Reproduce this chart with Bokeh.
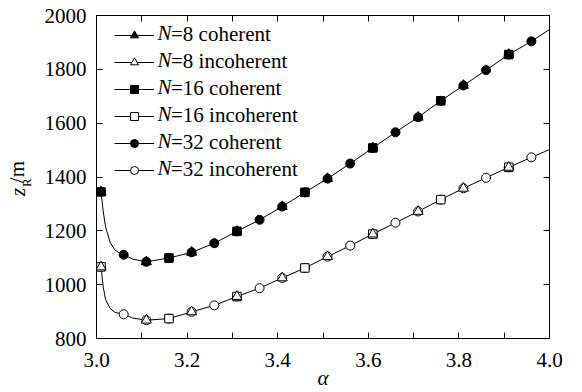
import numpy as np
from bokeh.plotting import figure
from bokeh.layouts import row
from bokeh.core.properties import value
from bokeh.models import Range1d, LinearAxis, FixedTicker, Legend, LegendItem, Label
from bokeh.embed import file_html
from bokeh.resources import INLINE

# ---- data ----
# N=32 (markers every 0.05)
alpha_32 = [3.01, 3.06, 3.11, 3.16, 3.21, 3.26, 3.31, 3.36, 3.41, 3.46,
            3.51, 3.56, 3.61, 3.66, 3.71, 3.76, 3.81, 3.86, 3.91, 3.96]
coh_32 = [1345, 1111, 1085, 1099, 1120, 1154, 1198, 1241, 1290, 1343,
          1394, 1450, 1508, 1566, 1622, 1683, 1740, 1797, 1855, 1904]
inc_32 = [1066, 890, 868, 874, 899, 923, 956, 987, 1025, 1062,
          1104, 1145, 1188, 1230, 1272, 1316, 1358, 1397, 1436, 1473]
# N=8 (markers every 0.1)
alpha_8 = [3.01, 3.11, 3.21, 3.31, 3.41, 3.51, 3.61, 3.71, 3.81, 3.91]
coh_8 = [1345, 1085, 1120, 1198, 1290, 1394, 1508, 1622, 1740, 1855]
inc_8 = [1066, 868, 899, 956, 1025, 1104, 1188, 1272, 1358, 1436]
# N=16 (markers every 0.15)
alpha_16 = [3.01, 3.16, 3.31, 3.46, 3.61, 3.76, 3.91]
coh_16 = [1345, 1099, 1198, 1343, 1508, 1683, 1855]
inc_16 = [1066, 874, 956, 1062, 1188, 1316, 1436]
# smooth curves
coh_curve_alpha = [3.01, 3.015, 3.02, 3.03, 3.04, 3.05, 3.06, 3.08, 3.11, 3.16, 3.21, 3.26,
                   3.31, 3.36, 3.41, 3.46, 3.51, 3.56, 3.61, 3.66, 3.71, 3.76, 3.81,
                   3.86, 3.91, 3.96, 4.0]
coh_curve = [1345, 1270, 1215, 1158, 1130, 1118, 1111, 1095, 1085, 1099, 1120, 1154,
             1198, 1241, 1290, 1343, 1394, 1450, 1508, 1566, 1622, 1683, 1740,
             1797, 1855, 1904, 1948]
inc_curve_alpha = coh_curve_alpha
inc_curve = [1066, 990, 945, 912, 898, 893, 890, 876, 868, 874, 899, 923,
             956, 987, 1025, 1062, 1104, 1145, 1188, 1230, 1272, 1316, 1358,
             1397, 1436, 1473, 1502]

x_ticks = [3.0, 3.2, 3.4, 3.6, 3.8, 4.0]
x_tick_labels = ["3.0", "3.2", "3.4", "3.6", "3.8", "4.0"]
x_minor = [3.1, 3.3, 3.5, 3.7, 3.9]
y_ticks = [800, 1000, 1200, 1400, 1600, 1800, 2000]
legend_n = ["8", "8", "16", "16", "32", "32"]
legend_kind = ["coherent", "incoherent", "coherent", "incoherent", "coherent", "incoherent"]
ylabel_parts = ["z", "R", "/m"]

FONT = "Liberation Serif"
FS = "21px"

# ---- narrow strip holding the y-axis title  z_R/m ----
LW = 40
LH = 392
lab = figure(width=LW, height=LH, output_backend="svg", toolbar_location=None,
             x_range=Range1d(0, LW), y_range=Range1d(LH, 0),   # screen-like: y grows downward
             x_axis_location=None, y_axis_location=None,
             min_border_left=0, min_border_right=0, min_border_top=0, min_border_bottom=0)
lab.grid.visible = False
lab.outline_line_color = None
lab.border_fill_color = "white"
lab.background_fill_color = "white"
# (style, size, centre x, centre y) of each part, measured from the strip's top-left
part_style = [("italic", "21px", 17, 214), ("normal", "13px", 26, 203), ("normal", "21px", 16.5, 190)]
for t, (st, fs, xx, yy) in zip(ylabel_parts, part_style):
    lab.text(x=[xx], y=[yy], text=[t], angle=np.pi / 2, text_font=value(FONT),
             text_font_size=fs, text_font_style=st, text_color="black",
             text_align="center", text_baseline="middle")

# ---- main plot ----
p = figure(width=582 - LW, height=392, output_backend="svg", toolbar_location=None,
           x_range=Range1d(3.0, 4.0), y_range=Range1d(800, 2000),
           x_axis_location=None, y_axis_location=None,
           min_border_left=96 - LW, min_border_right=33, min_border_top=15, min_border_bottom=52)
p.grid.visible = False
p.outline_line_color = "black"
p.outline_line_width = 1
p.background_fill_color = "white"
p.border_fill_color = "white"


def style_axis(ax):
    ax.axis_line_color = "black"
    ax.major_tick_in = 6
    ax.major_tick_out = 0
    ax.minor_tick_in = 6
    ax.minor_tick_out = 0
    ax.major_tick_line_color = "black"
    ax.minor_tick_line_color = "black"
    ax.major_label_text_font = FONT
    ax.major_label_text_color = "black"
    ax.major_label_text_font_size = FS


xt = FixedTicker(ticks=x_ticks, minor_ticks=x_minor)
yt = FixedTicker(ticks=y_ticks, minor_ticks=[])

bx = LinearAxis(ticker=xt, major_label_overrides={t: s for t, s in zip(x_ticks, x_tick_labels)})
style_axis(bx)
bx.major_label_standoff = 14
bx.axis_label = "α"
bx.axis_label_text_font = FONT
bx.axis_label_text_font_size = FS
bx.axis_label_text_font_style = "italic"
bx.axis_label_text_color = "black"
bx.axis_label_standoff = -4
p.add_layout(bx, "below")
tx = LinearAxis(ticker=xt, major_label_overrides={t: "" for t in x_ticks})
style_axis(tx)
tx.major_label_standoff = 0
p.add_layout(tx, "above")
ly = LinearAxis(ticker=yt)
style_axis(ly)
ly.major_label_standoff = 10
p.add_layout(ly, "left")
ry = LinearAxis(ticker=yt, major_label_overrides={t: "" for t in y_ticks})
style_axis(ry)
ry.major_label_standoff = 0
p.add_layout(ry, "right")

coh_line = p.line(coh_curve_alpha, coh_curve, line_color="black", line_width=1)
inc_line = p.line(inc_curve_alpha, inc_curve, line_color="black", line_width=1)

c32 = p.scatter(alpha_32, coh_32, marker="circle", size=9, fill_color="black", line_color="black")
i32 = p.scatter(alpha_32, inc_32, marker="circle", size=9, fill_color="white", line_color="black")
c16 = p.scatter(alpha_16, coh_16, marker="square", size=8.5, fill_color="black", line_color="black")
i16 = p.scatter(alpha_16, inc_16, marker="square", size=8.5, fill_color="white", line_color="black")
c8 = p.scatter(alpha_8, coh_8, marker="triangle", size=10, fill_color="black", line_color="black")
i8 = p.scatter(alpha_8, inc_8, marker="triangle", size=10, fill_color="white", line_color="black")

rends = [[coh_line, c8], [inc_line, i8], [coh_line, c16], [inc_line, i16], [coh_line, c32], [inc_line, i32]]
items = [LegendItem(label="=" + n + " " + k, renderers=r)
         for n, k, r in zip(legend_n, legend_kind, rends)]
legend = Legend(items=items, location=(18, 156), padding=0, margin=0, spacing=2,
                glyph_width=40, glyph_height=20, label_standoff=17,
                label_text_font=FONT, label_text_font_size=FS, label_text_color="black",
                border_line_color=None, background_fill_alpha=0)
p.add_layout(legend, "center")

# italic "N" in front of each legend label (screen units, relative to the frame)
for i in range(len(legend_n)):
    p.add_layout(Label(x=61, y=325 - 19 - 27 * i, x_units="screen", y_units="screen",
                       text="N", text_font=FONT, text_font_size=FS, text_font_style="italic",
                       text_color="black", text_align="left", text_baseline="middle"))

layout = row(lab, p, spacing=0)
open("out.html", "w").write(file_html(layout, INLINE))
